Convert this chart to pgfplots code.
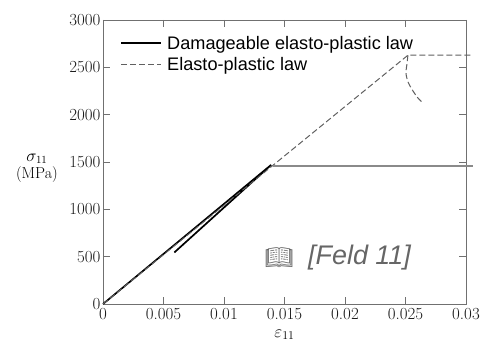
\documentclass[border=0pt]{standalone}
\usepackage{pgfplots}
\pgfplotsset{compat=1.18}
\usepackage{fontspec}
\newfontfamily\arialfont{Liberation Sans}
\newfontfamily\emojifont{Noto Emoji}
\usetikzlibrary{calc}
\definecolor{axgray}{HTML}{707070}
\definecolor{dashgray}{HTML}{606060}
\definecolor{linegray}{HTML}{8A8A8A}
\definecolor{notegray}{HTML}{666666}
\begin{document}
\begin{tikzpicture}
\begin{axis}[name=ax, scale only axis, width=363bp, height=284bp,
  xmin=0, xmax=0.03, ymin=0, ymax=3000,
  scaled x ticks=false, scaled y ticks=false,
  xtick={0,0.005,0.01,0.015,0.02,0.025,0.03},
  xticklabels={0,0.005,0.01,0.015,0.02,0.025,0.03},
  ytick={0,500,1000,1500,2000,2500,3000},
  yticklabels={0,500,1000,1500,2000,2500,3000},
  tick label style={font=\fontsize{17}{20}\selectfont, text=black!90},
  xticklabel style={yshift=-1bp},
  yticklabel style={xshift=1bp},
  axis line style={axgray, line width=0.9pt},
  major tick style={axgray, line width=0.9pt},
  major tick length=7bp,
  tick align=inside,
  clip=false,
  xlabel={$\varepsilon_{11}$},
  xlabel style={font=\fontsize{17}{20}\selectfont, yshift=-3bp},
  legend style={draw=none, fill=none, at={(rel axis cs:0.045,0.955)}, anchor=north west,
    font=\arialfont\fontsize{18.2}{22}\selectfont, row sep=3bp, inner sep=1bp,
    nodes={inner xsep=5bp}},
  legend cell align=left,
  legend image code/.code={\draw[#1] (0bp,0bp) -- (40bp,0bp);},
]
% Damageable elasto-plastic law
\addplot[black, line width=1.7pt] coordinates {(0,0) (0.0139,1470) (0.0059,545)};
\addlegendentry{Damageable elasto-plastic law}
% Elasto-plastic law
\addplot[dashgray, line width=1pt, dash pattern=on 6bp off 3bp] coordinates {(0,0) (0.0252,2628) (0.0305,2628)};
\addlegendentry{Elasto-plastic law}
% other branches
\addplot[linegray, line width=1.1pt, forget plot] coordinates {(0.01405,1458) (0.0306,1458)};
\addplot[dashgray, line width=1pt, dash pattern=on 6bp off 3bp, smooth, forget plot] coordinates {
 (0.0252,2628) (0.02512,2535) (0.02504,2440) (0.02521,2345) (0.02562,2250) (0.02603,2176) (0.02645,2123)};
\node[align=center, font=\fontsize{16}{17}\selectfont] at (rel axis cs:-0.182,0.479) {$\sigma_{11}$\\(MPa)};
\node[text=notegray] at (axis cs:0.01455,486) {\emojifont\fontsize{23}{25}\selectfont 📖};
\node[text=notegray] at (axis cs:0.0212,486) {\arialfont\itshape\fontsize{27}{30}\selectfont [Feld 11]};
\end{axis}
\pgfresetboundingbox
\path ($(ax.south west)+(-103bp,-40bp)$) rectangle ($(ax.north east)+(17bp,20bp)$);
\end{tikzpicture}
\end{document}
